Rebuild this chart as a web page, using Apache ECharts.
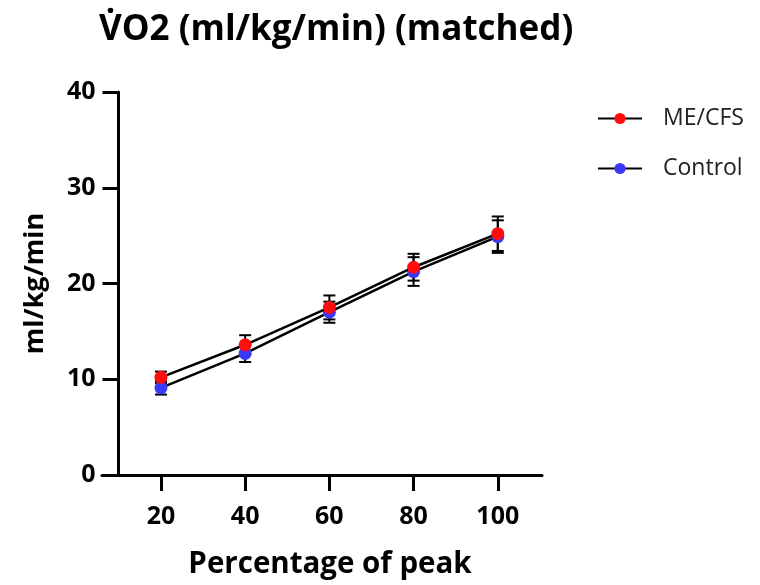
<!DOCTYPE html>
<html>
<head>
<meta charset="utf-8">
<script src="https://cdn.jsdelivr.net/npm/echarts@6/dist/echarts.min.js"></script>
<style>
html,body{margin:0;padding:0;background:#fff;}
#chart{width:760px;height:585px;}
</style>
</head>
<body>
<div id="chart"></div>
<script>
const xValues = [20, 40, 60, 80, 100];
const meMean = [10.2, 13.6, 17.5, 21.7, 25.2];
const meSD = [0.6, 1.0, 1.25, 1.4, 1.8];
const ctrlMean = [9.1, 12.7, 17.0, 21.25, 24.9];
const ctrlSD = [0.7, 0.9, 1.1, 1.5, 1.7];

const FONT = 'Open Sans';

function pairs(means) { return xValues.map((x, i) => [x, means[i]]); }
function errData(means, sds) { return xValues.map((x, i) => [x, means[i] - sds[i], means[i] + sds[i]]); }

function errRender(params, api) {
  const x = api.value(0);
  const lo = api.coord([x, api.value(1)]);
  const hi = api.coord([x, api.value(2)]);
  const w = 6;
  const style = { stroke: '#000', lineWidth: 2 };
  return {
    type: 'group',
    children: [
      { type: 'line', shape: { x1: lo[0], y1: lo[1], x2: hi[0], y2: hi[1] }, style },
      { type: 'line', shape: { x1: lo[0] - w, y1: lo[1], x2: lo[0] + w, y2: lo[1] }, style },
      { type: 'line', shape: { x1: hi[0] - w, y1: hi[1], x2: hi[0] + w, y2: hi[1] }, style }
    ]
  };
}

const chart = echarts.init(document.getElementById('chart'), null, { renderer: 'canvas' });
chart.setOption({
  animation: false,
  backgroundColor: '#fff',
  title: {
    text: 'V\u0307O2 (ml/kg/min) (matched)',
    left: 94,
    top: 8,
    textStyle: { fontFamily: FONT, fontWeight: 'bold', fontSize: 35, color: '#000' }
  },
  legend: {
    orient: 'vertical',
    left: 592,
    top: 102,
    itemWidth: 44,
    itemHeight: 14,
    itemGap: 27,
    data: ['ME/CFS', 'Control'],
    textStyle: { fontFamily: FONT, fontSize: 23, color: '#222', padding: [0, 0, 0, 16] }
  },
  grid: { left: 102, right: 218, top: 92, bottom: 109 },
  xAxis: {
    type: 'value',
    min: 6,
    max: 110.5,
    name: 'Percentage of peak',
    nameLocation: 'middle',
    nameGap: 75,
    nameTextStyle: { fontFamily: FONT, fontWeight: 'bold', fontSize: 29.5, color: '#000', padding: [0, 0, 0, 16] },
    axisLine: { lineStyle: { color: '#000', width: 3 } },
    axisTick: { customValues: xValues, length: 16, lineStyle: { color: '#000', width: 3 } },
    axisLabel: { customValues: xValues, margin: 29, fontFamily: FONT, fontWeight: 'bold', fontSize: 25, color: '#000' },
    splitLine: { show: false }
  },
  yAxis: {
    type: 'value',
    min: 0,
    max: 40,
    interval: 10,
    offset: -16.5,
    name: 'ml/kg/min',
    nameLocation: 'middle',
    nameGap: 70,
    nameTextStyle: { fontFamily: FONT, fontWeight: 'bold', fontSize: 27, color: '#000' },
    axisLine: { show: true, lineStyle: { color: '#000', width: 3 } },
    axisTick: { show: true, length: 16, lineStyle: { color: '#000', width: 3 } },
    axisLabel: { margin: 23, fontFamily: FONT, fontWeight: 'bold', fontSize: 25, color: '#000' },
    splitLine: { show: false }
  },
  series: [
    {
      name: 'errCtrl', type: 'custom', renderItem: errRender, data: errData(ctrlMean, ctrlSD),
      encode: { x: 0, y: [1, 2] }, z: 1, silent: true
    },
    {
      name: 'errME', type: 'custom', renderItem: errRender, data: errData(meMean, meSD),
      encode: { x: 0, y: [1, 2] }, z: 1, silent: true
    },
    {
      name: 'Control', type: 'line', data: pairs(ctrlMean), symbol: 'circle', symbolSize: 13,
      lineStyle: { color: '#000', width: 2.5 }, itemStyle: { color: '#3a3af5' }, z: 3
    },
    {
      name: 'ME/CFS', type: 'line', data: pairs(meMean), symbol: 'circle', symbolSize: 13,
      lineStyle: { color: '#000', width: 2.5 }, itemStyle: { color: '#ff0d0d' }, z: 4
    }
  ]
});
</script>
</body>
</html>
